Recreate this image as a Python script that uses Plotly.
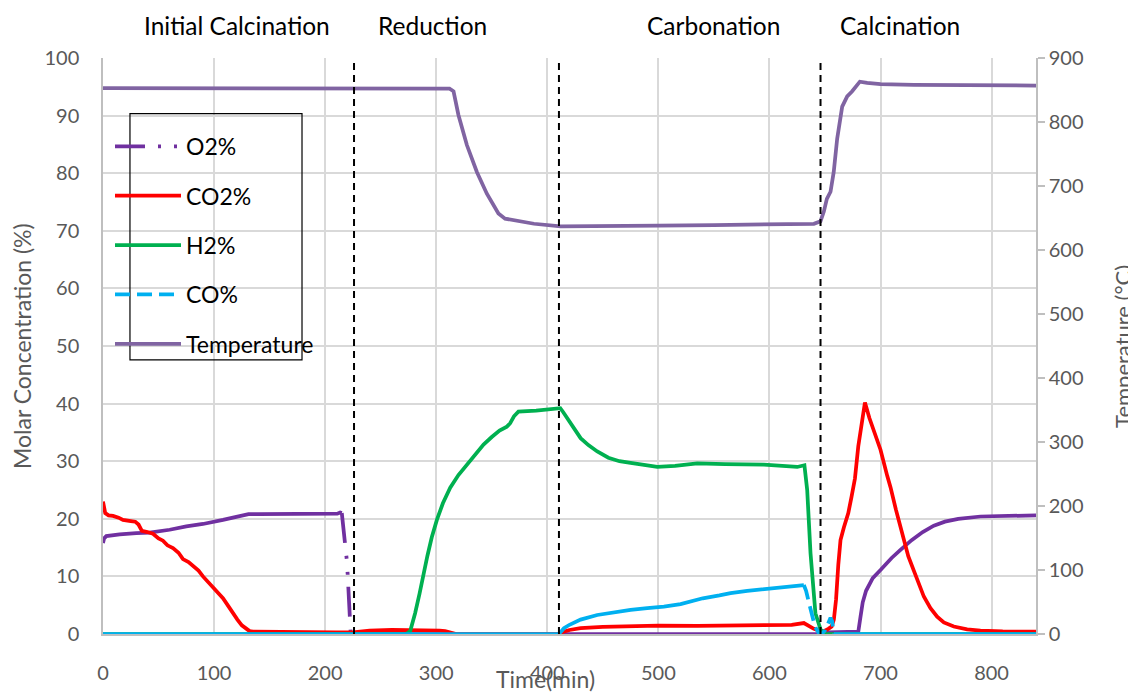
import plotly.graph_objects as go

# ---------------- data ----------------
# O2 % (solid parts) : initial calcination, then zero / final calcination
o2_t_a = [0, 1, 3, 6, 15, 30, 42, 60, 75, 90, 99, 108, 117, 125, 131, 140, 160, 180, 200, 207, 211, 213.5, 215]
o2_a = [15.8, 16.6, 17.0, 17.1, 17.3, 17.5, 17.6, 18.1, 18.7, 19.1, 19.4, 19.8, 20.2, 20.6, 20.8, 20.8, 20.8, 20.8, 20.8, 20.8, 20.9, 21.1, 21.0]
o2_t_b = [223, 650, 652, 679, 680, 682, 684, 687, 693, 700, 710, 718, 728, 738, 748, 758, 770, 790, 815, 840]
o2_b = [0, 0, 0.3, 0.3, 0.4, 3.0, 5.5, 7.5, 9.7, 11.1, 13.2, 14.6, 16.3, 17.7, 18.8, 19.5, 20.0, 20.4, 20.55, 20.6]
# O2 % drop at end of initial calcination (dash-dot segment)
o2_drop_t = [215, 216.5, 218, 219.4, 220.3, 221.2, 222.7, 223]
o2_drop = [21.0, 18.5, 15.8, 13.0, 10.3, 7.6, 2.8, 0]

# CO2 %
co2_t = [0, 1, 2, 5, 9, 14, 18, 25, 29, 32, 35, 40, 45, 50, 54, 58, 63, 68, 72, 77, 81, 86, 90, 96, 102, 108,
         113, 117, 121, 125, 129.5, 132, 135, 150, 180, 210, 225, 232, 240, 260, 280, 297, 303, 308, 314, 318,
         410, 413, 420, 430, 450, 475, 500, 535, 565, 595, 620, 631, 635, 640, 645, 649, 653, 656, 658, 660,
         662, 664, 667, 671, 674, 677, 680, 683, 686, 690, 695, 700, 706, 709, 714, 718, 721, 725, 730, 735,
         739, 745, 751, 757, 766, 778, 790, 810, 840]
co2 = [23.0, 22.0, 21.0, 20.6, 20.5, 20.2, 19.8, 19.6, 19.5, 19.0, 17.9, 17.7, 17.4, 16.6, 16.2, 15.4, 14.9,
       14.1, 13.0, 12.5, 11.9, 11.0, 10.0, 8.8, 7.5, 6.2, 4.8, 3.6, 2.5, 1.5, 0.8, 0.5, 0.4, 0.35, 0.3, 0.3,
       0.3, 0.4, 0.6, 0.7, 0.7, 0.6, 0.6, 0.5, 0.2, 0,
       0, 0.3, 0.7, 1.0, 1.25, 1.4, 1.45, 1.4, 1.45, 1.5, 1.6, 1.9, 1.4, 0.9, 0.6, 0.5, 0.9, 1.3, 2.5, 6.0,
       12.0, 16.3, 18.5, 21.0, 23.9, 27.0, 32.6, 37.0, 40.2, 37.5, 34.5, 32.0, 27.5, 25.5, 21.5, 18.5, 16.0,
       13.5, 11.0, 8.5, 6.5, 4.5, 3.0, 2.0, 1.3, 0.8, 0.6, 0.45, 0.4]

# H2 %
h2_t = [0, 273, 276.6, 279, 281, 285, 288.6, 292, 296, 300.6, 306, 312.6, 320, 327.6, 335, 342.6, 350, 357,
        363.6, 366.6, 370, 374, 390, 408.7, 411.7, 414.4, 420, 430, 437, 445, 455, 465, 475, 487, 499, 515,
        535, 560, 595, 625, 631.5, 634, 637, 641.4, 646, 649, 840]
h2 = [0, 0, 0.5, 2.0, 3.6, 7.0, 10.6, 13.5, 16.8, 19.8, 22.7, 25.4, 27.6, 29.4, 31.3, 32.9, 34.2, 35.3,
      36.0, 36.6, 37.8, 38.6, 38.8, 39.1, 39.2, 38.5, 36.8, 34.0, 32.8, 31.7, 30.6, 30.0, 29.7, 29.3, 29.0,
      29.2, 29.6, 29.5, 29.4, 29.0, 29.3, 25.0, 14.0, 3.6, 0.8, 0, 0]

# CO % (solid parts)
co_t_a = [0, 410, 412, 415, 420, 430, 445, 460, 475, 490, 505, 520, 529, 533, 540, 555, 565, 580, 595, 610, 620, 631]
co_a = [0, 0, 0.3, 1.0, 1.6, 2.5, 3.3, 3.8, 4.2, 4.5, 4.75, 5.2, 5.6, 5.9, 6.2, 6.7, 7.1, 7.5, 7.8, 8.1, 8.3, 8.5]
co_t_b = [658, 840]
co_b = [0, 0]
# CO % drop at end of carbonation (dashed segment)
co_drop_t = [631, 633, 635, 638, 641, 644, 647, 650, 653, 655, 656.5, 658]
co_drop = [8.5, 7.5, 5.9, 3.5, 1.3, 0.3, 0, 0.6, 2.0, 2.8, 2.2, 0]

# Temperature (°C)
temp_t = [0, 100, 200, 305, 309.6, 312, 315.6, 320, 327.6, 336.6, 345.6, 356, 362, 375, 388, 412, 450, 500,
          550, 600, 628, 640, 646, 649, 651.7, 655, 657.9, 661, 665.5, 670, 674.5, 681.4, 688, 700, 730, 790, 840]
temp = [853, 853, 853, 853, 853, 852, 848, 811, 764, 722, 688, 657, 649, 645, 641, 637, 637, 638,
        639, 640, 641, 641, 645, 660, 680, 691, 722, 774, 824, 840, 848, 863, 861, 859, 858, 857, 857]

phase_bounds = [226, 410.5, 646]
phase_names = ["Initial Calcination", "Reduction", "Carbonation", "Calcination"]
phase_label_x = [120.5, 297, 550, 717.5]

x_ticks = [0, 100, 200, 300, 400, 500, 600, 700, 800]
y_ticks = [0, 10, 20, 30, 40, 50, 60, 70, 80, 90, 100]
y2_ticks = [0, 100, 200, 300, 400, 500, 600, 700, 800, 900]

# ---------------- styling ----------------
C_O2 = "#7030A0"
C_CO2 = "#FF0000"
C_H2 = "#00B050"
C_CO = "#00B0F0"
C_T = "#8064A2"
GRID = "#D9D9D9"
AXIS = "#BFBFBF"
TXT = "#595959"
FONT = "Lato, 'Open Sans', sans-serif"
LW = 3.75

fig = go.Figure()

o2_t_solid = o2_t_a + [None] + o2_t_b
o2_solid = o2_a + [None] + o2_b
fig.add_trace(go.Scatter(x=o2_t_solid, y=o2_solid, mode="lines", line=dict(color=C_O2, width=LW),
                         showlegend=False, legendgroup="o2", connectgaps=False))
fig.add_trace(go.Scatter(x=o2_drop_t, y=o2_drop, mode="lines", name="O2%", legendgroup="o2", legendrank=1,
                         line=dict(color=C_O2, width=LW, dash="30px,13px,3px,13px,3px,12px")))
fig.add_trace(go.Scatter(x=co2_t, y=co2, mode="lines", name="CO2%", legendgroup="co2", legendrank=2,
                         line=dict(color=C_CO2, width=LW)))
fig.add_trace(go.Scatter(x=h2_t, y=h2, mode="lines", name="H2%", legendgroup="h2", legendrank=3,
                         line=dict(color=C_H2, width=LW)))
co_t_solid = co_t_a + [None] + co_t_b
co_solid = co_a + [None] + co_b
fig.add_trace(go.Scatter(x=co_t_solid, y=co_solid, mode="lines", line=dict(color=C_CO, width=LW),
                         showlegend=False, legendgroup="co", connectgaps=False))
fig.add_trace(go.Scatter(x=co_drop_t, y=co_drop, mode="lines", name="CO%", legendgroup="co", legendrank=4,
                         line=dict(color=C_CO, width=LW, dash="15px,7px")))
fig.add_trace(go.Scatter(x=temp_t, y=temp, mode="lines", name="Temperature", legendgroup="t", legendrank=5,
                         line=dict(color=C_T, width=LW), yaxis="y2"))

for xb in phase_bounds:
    fig.add_vline(x=xb, line=dict(color="black", width=2, dash="7px,5px"), layer="above")

for name, xp in zip(phase_names, phase_label_x):
    fig.add_annotation(x=xp, xref="x", y=1.056, yref="paper", text=name, showarrow=False,
                       xanchor="center", yanchor="middle", font=dict(family=FONT, size=24.5, color="black"))

# legend box (offset from entries, as in the reference)
fig.add_shape(type="rect", xref="paper", yref="paper", x0=0.0289, x1=0.2133, y0=0.476, y1=0.9036,
              line=dict(color="black", width=1.2), fillcolor="rgba(0,0,0,0)", layer="above")

fig.add_annotation(x=-0.0868, xref="paper", y=0.5, yref="paper", text="Molar Concentration (%)",
                   textangle=-90, showarrow=False, xanchor="center", yanchor="middle",
                   font=dict(family=FONT, size=23, color=TXT))
fig.add_annotation(x=1.0921, xref="paper", y=0.5, yref="paper", text="Temperature (°C)",
                   textangle=-90, showarrow=False, xanchor="center", yanchor="middle",
                   font=dict(family=FONT, size=22, color=TXT))
fig.add_annotation(x=0.4748, xref="paper", y=-0.0785, yref="paper", text="Time(min)",
                   showarrow=False, xanchor="center", yanchor="middle", borderpad=0,
                   font=dict(family=FONT, size=23, color=TXT))

# the page puts the figure 8px in from the top-left corner, so the figure is 8px smaller
fig.update_layout(
    width=1128, height=684,
    margin=dict(l=95, r=100, t=50, b=58, autoexpand=False),
    paper_bgcolor="white", plot_bgcolor="white",
    font=dict(family=FONT, size=20, color=TXT),
    xaxis=dict(range=[0, 840], tickvals=x_ticks, showgrid=True, gridcolor=GRID, gridwidth=2,
               showline=True, linecolor=AXIS, linewidth=1.5, zeroline=False, ticks="", automargin=False,
               ticklabelstandoff=20, tickfont=dict(family=FONT, size=20, color=TXT)),
    yaxis=dict(range=[0, 100], tickvals=y_ticks, showgrid=True, gridcolor=GRID, gridwidth=2,
               showline=True, linecolor=AXIS, linewidth=1.5, zeroline=False, ticks="", automargin=False,
               ticklabelstandoff=18, tickfont=dict(family=FONT, size=20, color=TXT)),
    yaxis2=dict(range=[0, 900], tickvals=y2_ticks, overlaying="y", side="right", showgrid=False,
                showline=True, linecolor=AXIS, linewidth=1.5, zeroline=False, ticks="outside",
                ticklen=7, tickcolor=AXIS, tickwidth=1.5, tickprefix="\u2002\u00a0", automargin=False,
                tickfont=dict(family=FONT, size=20, color=TXT)),
    showlegend=True,
    legend=dict(x=0.0075, y=0.884, xanchor="left", yanchor="top", bgcolor="rgba(0,0,0,0)",
                borderwidth=0, tracegroupgap=16.5, itemwidth=66,
                font=dict(family=FONT, size=23, color="black"), traceorder="grouped"),
)

fig.write_html("out.html")
